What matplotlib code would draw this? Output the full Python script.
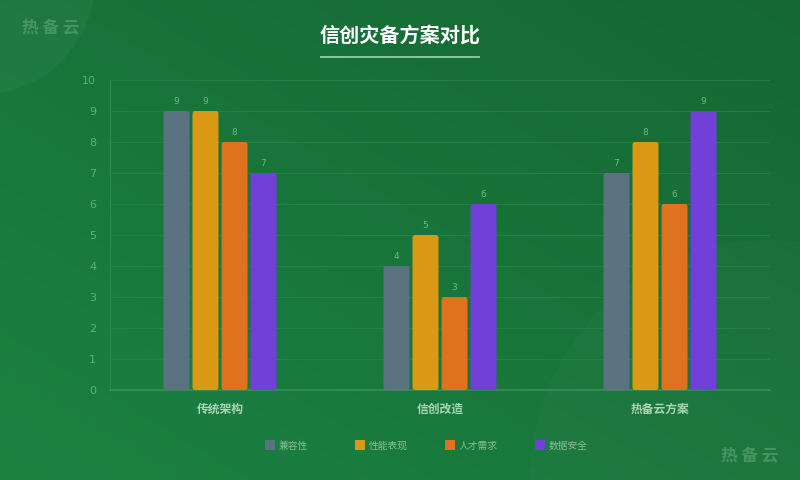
import numpy as np
import matplotlib
matplotlib.use('Agg')
import matplotlib.pyplot as plt
from matplotlib.patches import FancyBboxPatch, Circle, Rectangle

plt.rcParams['font.family'] = ['Noto Sans CJK SC', 'DejaVu Sans']

categories = ['传统架构', '信创改造', '热备云方案']
series = ['兼容性', '性能表现', '人才需求', '数据安全']
values = [
    [9, 4, 7],
    [9, 5, 8],
    [8, 3, 6],
    [7, 6, 9],
]
colors = ['#5b7280', '#da9914', '#e0721d', '#7040d8']

fig = plt.figure(figsize=(8, 4.8), dpi=100)

# background gradient
bg = fig.add_axes([0, 0, 1, 1], zorder=-10)
yy, xx = np.mgrid[0:1:240j, 0:1:400j]
t = (xx + (1 - yy)) / 2
c1 = np.array([0x1c, 0x82, 0x42]) / 255
c2 = np.array([0x15, 0x68, 0x33]) / 255
img = c1[None, None, :] * (1 - t[..., None]) + c2[None, None, :] * t[..., None]
bg.imshow(img, extent=[0, 800, 0, 480], aspect='auto', origin='upper')
bg.add_patch(Circle((-20, 500), 115, color='white', alpha=0.03, lw=0))
bg.add_patch(Circle((770, 0), 240, color='white', alpha=0.02, lw=0))
bg.set_xlim(0, 800)
bg.set_ylim(0, 480)
bg.axis('off')

# title + underline
fig.text(0.5, 1 - 35 / 480, '信创灾备方案对比', ha='center', va='center',
         color='white', fontsize=14.5, fontweight='bold')
bg.add_patch(Rectangle((320, 480 - 58), 160, 2.5, color='#86c49a', lw=0))

# watermarks
fig.text(22 / 800, 1 - 28 / 480, '热 备 云', ha='left', va='center',
         color='#52a06c', fontsize=12, fontweight='bold', alpha=0.75)
fig.text(778 / 800, 1 - 456 / 480, '热 备 云', ha='right', va='center',
         color='#52a06c', fontsize=12, fontweight='bold', alpha=0.75)

ax = fig.add_axes([110 / 800, 1 - 390 / 480, 660 / 800, 310 / 480])
ax.set_facecolor('none')
ax.set_xlim(-0.5, 2.5)
ax.set_ylim(0, 10)

w = 26 / 220
step = 29 / 220
x = np.arange(len(categories))
for i, (name, vals, col) in enumerate(zip(series, values, colors)):
    off = (i - 1.5) * step
    for xi, v in zip(x, vals):
        p = FancyBboxPatch((xi + off - w / 2, 0), w, v,
                           boxstyle='round,pad=0,rounding_size=0.012',
                           mutation_aspect=7.1,
                           fc=col, ec='none', zorder=3)
        ax.add_patch(p)
        ax.text(xi + off, v + 0.15, str(v), ha='center', va='bottom',
                fontsize=6.5, color='#6fb88a', zorder=4,
                family='DejaVu Sans')

ax.set_yticks(range(0, 11))
ax.set_xticks(x)
ax.set_xticklabels(categories, fontsize=8.5, fontweight='bold', color='#a9d6b6')
ax.tick_params(axis='y', labelsize=8, length=0, pad=10)
ax.tick_params(axis='x', length=0, pad=9)
for lab in ax.get_yticklabels():
    lab.set_color('#5fae7a')
    lab.set_family('DejaVu Sans')
ax.grid(axis='y', color='#2c8a4e', lw=0.8, alpha=0.6, zorder=0)
for s in ['top', 'right']:
    ax.spines[s].set_visible(False)
ax.spines['left'].set_color('#2c8a4e')
ax.spines['bottom'].set_color('#3a9058')
ax.spines['bottom'].set_linewidth(1.2)

# legend
for i, (name, col) in enumerate(zip(series, colors)):
    lx = 265 + i * 90
    bg.add_patch(Rectangle((lx, 480 - 450), 10, 10, color=col, lw=0))
    fig.text((lx + 14) / 800, 1 - 446 / 480, name, ha='left', va='center',
             color='#86bf98', fontsize=7)

fig.savefig('out.png', dpi=100)
